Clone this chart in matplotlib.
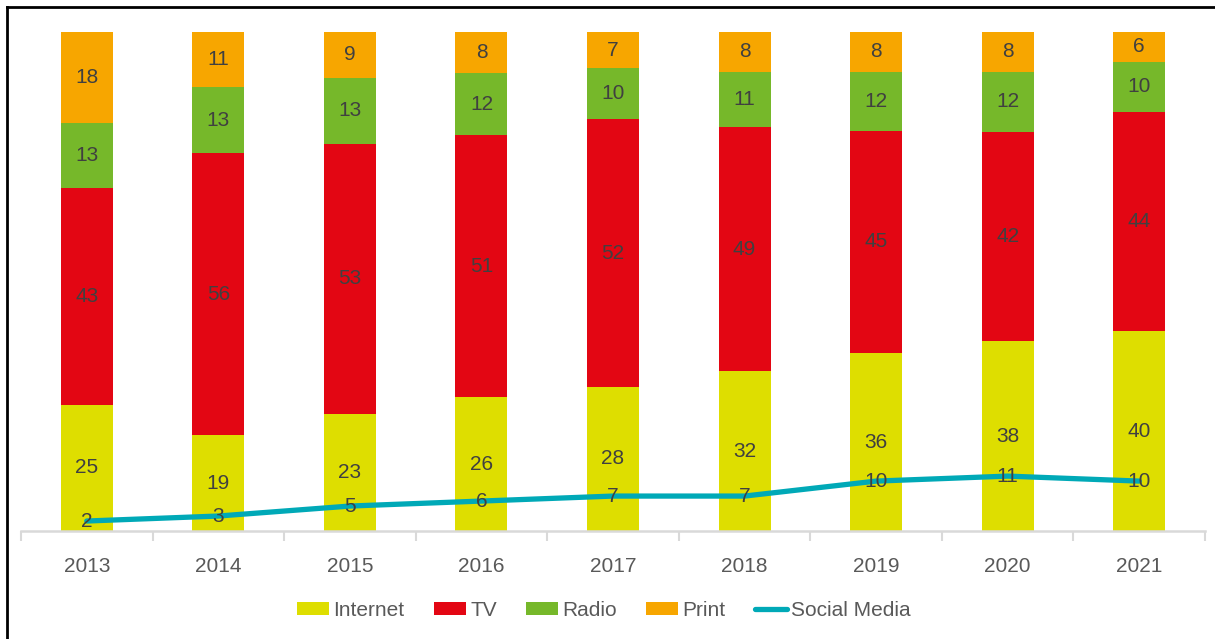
import matplotlib
matplotlib.use("Agg")
import matplotlib.pyplot as plt
import numpy as np
from matplotlib.lines import Line2D

plt.rcParams['font.family'] = ['Liberation Sans', 'DejaVu Sans']

years = ["2013", "2014", "2015", "2016", "2017", "2018", "2019", "2020", "2021"]
internet = [25, 19, 23, 26, 28, 32, 36, 38, 40]
tv = [43, 56, 53, 51, 52, 49, 45, 42, 44]
radio = [13, 13, 13, 12, 10, 11, 12, 12, 10]
printm = [18, 11, 9, 8, 7, 8, 8, 8, 6]
social = [2, 3, 5, 6, 7, 7, 10, 11, 10]

series = [("Internet", internet, "#dede00"),
          ("TV", tv, "#e30613"),
          ("Radio", radio, "#76b82a"),
          ("Print", printm, "#f7a600")]

fig = plt.figure(figsize=(12.15, 6.39), dpi=100)
ax = fig.add_axes([21/1215, 1 - 531/639, (1205-21)/1215, (531-32)/639])

x = np.arange(len(years))
totals = np.array(internet) + np.array(tv) + np.array(radio) + np.array(printm)
bottom = np.zeros(len(years))
label_color = "#404040"
for name, vals, col in series:
    pct = np.array(vals) / totals * 100
    ax.bar(x, pct, width=0.395, bottom=bottom, color=col, label=name, zorder=2)
    for xi, b, h, v in zip(x, bottom, pct, vals):
        ax.text(xi, b + h / 2, str(v), ha="center", va="center",
                fontsize=15, color=label_color, zorder=5)
    bottom = bottom + pct

ax.plot(x, social, color="#00a9b7", lw=3.8, label="Social Media", zorder=3,
        solid_capstyle="round")
for xi, v in zip(x, social):
    ax.text(xi, v, str(v), ha="center", va="center", fontsize=15,
            color=label_color, zorder=5)

ax.set_xlim(-0.5, len(years) - 0.5)
ax.set_ylim(0, 100)
ax.set_yticks([])
for s in ["top", "right", "left"]:
    ax.spines[s].set_visible(False)
ax.spines["bottom"].set_color("#d9d9d9")
ax.spines["bottom"].set_linewidth(1.8)
ax.set_xticks(np.arange(-0.5, len(years)), minor=False)
ax.set_xticklabels([])
ax.tick_params(axis="x", which="major", length=7, width=1.5, color="#d9d9d9")
ax.set_xticks(x, minor=True)
ax.set_xticklabels(years, minor=True)
ax.tick_params(axis="x", which="minor", length=0, pad=19, labelsize=15,
               labelcolor="#595959")

handles, labels = ax.get_legend_handles_labels()
order = [1, 2, 3, 4, 0]
leg = fig.legend([handles[i] for i in order], [labels[i] for i in order],
                 loc="center", bbox_to_anchor=(604/1215, 1 - 610/639), ncol=5,
                 frameon=False, fontsize=15, handlelength=1.55,
                 handleheight=0.6, handletextpad=0.2, columnspacing=1.4,
                 labelcolor="#595959")

fig.add_artist(Line2D([7/1215, 7/1215], [0, 1 - 7/639], color="black", lw=2,
                      transform=fig.transFigure))
fig.add_artist(Line2D([7/1215, 1], [1 - 7/639, 1 - 7/639], color="black", lw=2,
                      transform=fig.transFigure))

fig.savefig("out.png", dpi=100)
